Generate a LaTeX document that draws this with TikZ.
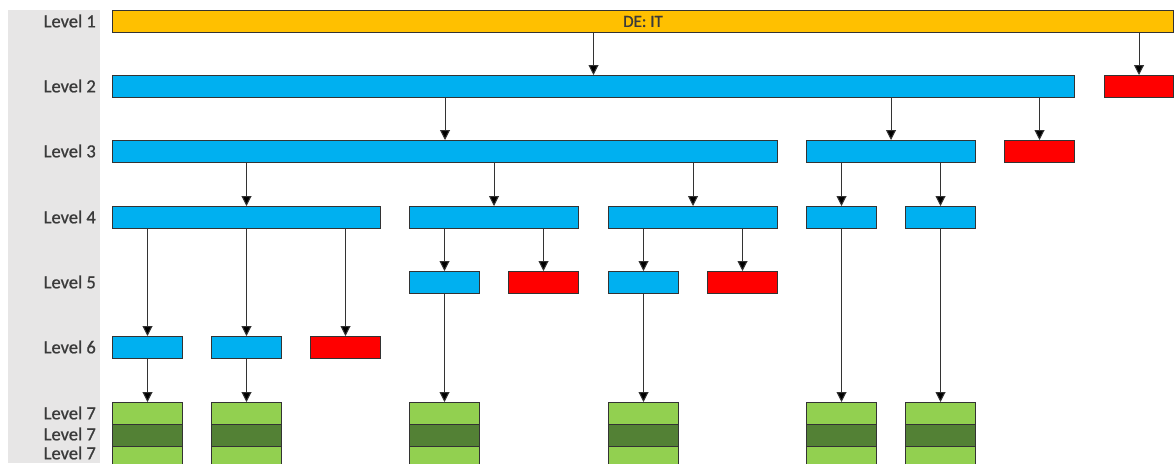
\documentclass[tikz,border=0pt]{standalone}
\usepackage{fontspec}
\setmainfont{Carlito}
\newfontfamily\lvlfont[FakeBold=0.8]{Carlito}
\usetikzlibrary{arrows.meta}
\definecolor{cOrange}{HTML}{FFC000}
\definecolor{cBlue}{HTML}{00B0F0}
\definecolor{cRed}{HTML}{FF0000}
\definecolor{cGreenL}{HTML}{92D050}
\definecolor{cGreenD}{HTML}{538135}
\definecolor{cPanel}{HTML}{E7E6E6}
\definecolor{cEdge}{HTML}{333333}
\definecolor{cText}{HTML}{3A3A3A}
\begin{document}
\begin{tikzpicture}[x=1pt,y=-1pt,
  blk/.style={draw=cEdge, line width=1pt, anchor=north west, inner sep=0pt,
    minimum height=22pt, minimum width=70pt},
  orange/.style={blk, fill=cOrange},
  blue/.style={blk, fill=cBlue},
  red/.style={blk, fill=cRed},
  gl/.style={blk, fill=cGreenL},
  gd/.style={blk, fill=cGreenD},
  lvl/.style={anchor=east, text=cText, inner sep=0pt, font=\lvlfont\fontsize{18.5}{20}\selectfont},
  arr/.style={draw=cEdge, line width=1pt, -{Triangle[width=10pt,length=10pt,fill=black]}}]
\clip (0,0) rectangle (1174,463);
\useasboundingbox (0,0) rectangle (1174,463);
\fill[white] (0,0) rectangle (1174,463);
% label column
\fill[cPanel] (8,10) rectangle (100,463);
\foreach \n/\y in {1/21,2/86,3/151,4/217,5/282,6/347,7/413,7/434,7/453}
  \node[lvl] at (96,\y) {Level \n};

% level 1
\node[orange, minimum width=1061pt, font=\lvlfont\fontsize{17}{19}\selectfont, text=cText] (l1) at (112,10) {DE: IT};
% level 2
\node[blue, minimum width=962pt] (l2a) at (112,75) {};
\node[red, minimum width=69pt] (l2r) at (1104,75) {};
% level 3
\node[blue, minimum width=665pt] (l3a) at (112,140) {};
\node[blue, minimum width=169pt] (l3b) at (806,140) {};
\node[red] (l3r) at (1004,140) {};
% level 4
\node[blue, minimum width=268pt] (l4a) at (112,206) {};
\node[blue, minimum width=169pt] (l4b) at (409,206) {};
\node[blue, minimum width=169pt] (l4c) at (608,206) {};
\node[blue] (l4d) at (806,206) {};
\node[blue] (l4e) at (905,206) {};
% level 5
\node[blue] (l5a) at (409,271) {};
\node[red] (l5ar) at (508,271) {};
\node[blue] (l5b) at (608,271) {};
\node[red] (l5br) at (707,271) {};
% level 6
\node[blue] (l6a) at (112,336) {};
\node[blue] (l6b) at (211,336) {};
\node[red] (l6r) at (310,336) {};
% level 7 stacks
\foreach \k/\x in {1/112,2/211,3/409,4/608,5/806,6/905} {
  \node[gl] (g\k a) at (\x,402) {};
  \node[gd] (g\k b) at (\x,424) {};
  \node[gl] (g\k c) at (\x,446) {};
}

% connectors
\foreach \s/\t in {l1/l2a, l1/l2r,
                   l2a/l3a, l2a/l3b, l2a/l3r,
                   l3a/l4a, l3a/l4b, l3a/l4c, l3b/l4d, l3b/l4e,
                   l4a/l6a, l4a/l6b, l4a/l6r,
                   l4b/l5a, l4b/l5ar, l4c/l5b, l4c/l5br,
                   l4d/g5a, l4e/g6a, l5a/g3a, l5b/g4a,
                   l6a/g1a, l6b/g2a}
  \draw[arr] (\s.south -| \t.north) -- (\t.north);
\end{tikzpicture}
\end{document}
